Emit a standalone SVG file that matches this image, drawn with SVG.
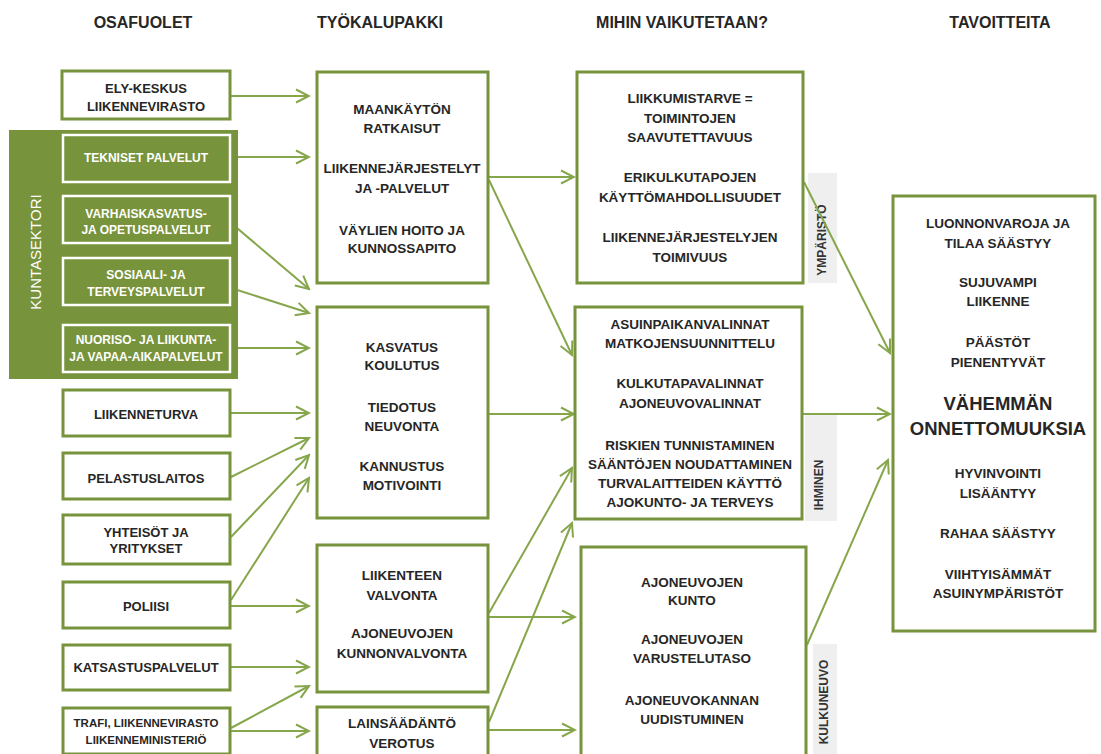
<svg xmlns="http://www.w3.org/2000/svg" width="1101" height="754" viewBox="0 0 1101 754">
<defs>
<style>
.box{fill:#fff;stroke:#77933C;stroke-width:3}
.kbox{fill:#77933C;stroke:#fff;stroke-width:2.5}
.side{fill:#efefef}
text{font-family:"Liberation Sans",Arial,sans-serif;font-weight:bold;fill:#262626;text-anchor:middle;dominant-baseline:central}
.h{font-size:16px}
.l{font-size:13px}
.k{font-size:12px;fill:#fff}
.m{font-size:13.5px}
.big{font-size:18.5px}
.s{font-size:12px;fill:#333}
.conn line{stroke:#86A64C;stroke-width:2;marker-end:url(#ah)}
</style>
<marker id="ah" viewBox="0 0 16 16" refX="14" refY="8" markerWidth="16" markerHeight="16" markerUnits="userSpaceOnUse" orient="auto">
<path d="M1,1.5 L14,8 L1,14.5" fill="none" stroke="#86A64C" stroke-width="2"/>
</marker>
</defs>
<rect width="1101" height="754" fill="#fff"/>

<g id="headers">
<text class="h" x="143" y="22">OSAFUOLET</text>
<text class="h" x="380" y="22">TYÖKALUPAKKI</text>
<text class="h" x="682" y="22">MIHIN VAIKUTETAAN?</text>
<text class="h" x="1000" y="22">TAVOITTEITA</text>
</g>

<g id="side-labels">
<rect class="side" x="808" y="173" width="29" height="110"/>
<text class="s" transform="translate(822,240) rotate(-90)">YMPÄRISTÖ</text>
<rect class="side" x="805" y="415" width="32" height="106"/>
<text class="s" transform="translate(819,485) rotate(-90)">IHMINEN</text>
<rect class="side" x="813" y="644" width="24" height="110"/>
<text class="s" transform="translate(824,702) rotate(-90)">KULKUNEUVO</text>
</g>

<g id="connectors" class="conn">
<line x1="231" y1="96" x2="309" y2="96"/>
<line x1="231" y1="157" x2="309" y2="157"/>
<line x1="231" y1="223" x2="309" y2="289"/>
<line x1="231" y1="288" x2="309" y2="313"/>
<line x1="231" y1="348" x2="309" y2="348"/>
<line x1="231" y1="413" x2="309" y2="413"/>
<line x1="231" y1="477" x2="309" y2="438"/>
<line x1="231" y1="537" x2="309" y2="455"/>
<line x1="231" y1="600" x2="309" y2="478"/>
<line x1="231" y1="606" x2="309" y2="606"/>
<line x1="231" y1="667" x2="309" y2="667"/>
<line x1="231" y1="728" x2="309" y2="686"/>
<line x1="231" y1="731" x2="309" y2="731"/>
<line x1="489" y1="177" x2="574" y2="177"/>
<line x1="489" y1="180" x2="572" y2="355"/>
<line x1="489" y1="414" x2="574" y2="414"/>
<line x1="489" y1="613" x2="572" y2="468"/>
<line x1="489" y1="617" x2="575" y2="617"/>
<line x1="489" y1="722" x2="572" y2="523"/>
<line x1="489" y1="730" x2="575" y2="730"/>
<line x1="804" y1="182" x2="890" y2="353"/>
<line x1="803" y1="414" x2="890" y2="414"/>
<line x1="807" y1="645" x2="888" y2="460"/>
</g>

<g id="ely">
<rect class="box" x="62" y="71" width="168" height="48"/>
<text class="l" x="146" y="88">ELY-KESKUS</text>
<text class="l" x="146" y="106">LIIKENNEVIRASTO</text>
</g>

<g id="kuntasektori">
<rect x="9" y="130" width="229" height="249" fill="#77933C"/>
<text class="k" style="font-size:15px;font-weight:normal" transform="translate(35,252) rotate(-90)">KUNTASEKTORI</text>
</g>
<g id="tekniset">
<rect class="kbox" x="63" y="135" width="167" height="47"/>
<text class="k" x="146" y="158">TEKNISET PALVELUT</text>
</g>
<g id="varhaiskasvatus">
<rect class="kbox" x="63" y="196" width="167" height="47"/>
<text class="k" x="146" y="214">VARHAISKASVATUS-</text>
<text class="k" x="146" y="230">JA OPETUSPALVELUT</text>
</g>
<g id="sosiaali">
<rect class="kbox" x="63" y="258" width="167" height="47"/>
<text class="k" x="146" y="275">SOSIAALI- JA</text>
<text class="k" x="146" y="292">TERVEYSPALVELUT</text>
</g>
<g id="nuoriso">
<rect class="kbox" x="63" y="325" width="167" height="47"/>
<text class="k" x="146" y="340">NUORISO- JA LIIKUNTA-</text>
<text class="k" x="146" y="357">JA VAPAA-AIKAPALVELUT</text>
</g>

<g id="liikenneturva">
<rect class="box" x="63" y="390" width="167" height="46"/>
<text class="l" x="146" y="414">LIIKENNETURVA</text>
</g>
<g id="pelastuslaitos">
<rect class="box" x="63" y="453" width="167" height="46"/>
<text class="l" x="146" y="478">PELASTUSLAITOS</text>
</g>
<g id="yhteisot">
<rect class="box" x="63" y="515" width="167" height="49"/>
<text class="l" x="146" y="532">YHTEISÖT JA</text>
<text class="l" x="146" y="548">YRITYKSET</text>
</g>
<g id="poliisi">
<rect class="box" x="63" y="582" width="167" height="46"/>
<text class="l" x="146" y="606">POLIISI</text>
</g>
<g id="katsastus">
<rect class="box" x="63" y="645" width="167" height="45"/>
<text class="l" x="146" y="667">KATSASTUSPALVELUT</text>
</g>
<g id="trafi">
<rect class="box" x="63" y="708" width="167" height="46"/>
<text class="l" style="font-size:11.5px" x="146" y="723">TRAFI, LIIKENNEVIRASTO</text>
<text class="l" style="font-size:11.5px" x="146" y="740">LIIKENNEMINISTERIÖ</text>
</g>

<g id="maankaytto">
<rect class="box" x="317" y="72" width="171" height="211"/>
<text class="m" x="402" y="109">MAANKÄYTÖN</text>
<text class="m" x="402" y="128">RATKAISUT</text>
<text class="m" x="402" y="168">LIIKENNEJÄRJESTELYT</text>
<text class="m" x="402" y="188">JA -PALVELUT</text>
<text class="m" x="402" y="230">VÄYLIEN HOITO JA</text>
<text class="m" x="402" y="248">KUNNOSSAPITO</text>
</g>
<g id="kasvatus">
<rect class="box" x="317" y="307" width="171" height="211"/>
<text class="m" x="402" y="347">KASVATUS</text>
<text class="m" x="402" y="365">KOULUTUS</text>
<text class="m" x="402" y="407">TIEDOTUS</text>
<text class="m" x="402" y="426">NEUVONTA</text>
<text class="m" x="402" y="466">KANNUSTUS</text>
<text class="m" x="402" y="485">MOTIVOINTI</text>
</g>
<g id="valvonta">
<rect class="box" x="317" y="545" width="171" height="147"/>
<text class="m" x="402" y="575">LIIKENTEEN</text>
<text class="m" x="402" y="595">VALVONTA</text>
<text class="m" x="402" y="633">AJONEUVOJEN</text>
<text class="m" x="402" y="653">KUNNONVALVONTA</text>
</g>
<g id="lainsaadanto">
<rect class="box" x="317" y="707" width="171" height="52"/>
<text class="m" x="402" y="723">LAINSÄÄDÄNTÖ</text>
<text class="m" x="402" y="743">VEROTUS</text>
</g>

<g id="liikkumistarve">
<rect class="box" x="577" y="72" width="226" height="211"/>
<text class="m" x="690" y="98">LIIKKUMISTARVE =</text>
<text class="m" x="690" y="118">TOIMINTOJEN</text>
<text class="m" x="690" y="137">SAAVUTETTAVUUS</text>
<text class="m" x="690" y="177">ERIKULKUTAPOJEN</text>
<text class="m" x="690" y="197">KÄYTTÖMAHDOLLISUUDET</text>
<text class="m" x="690" y="237">LIIKENNEJÄRJESTELYJEN</text>
<text class="m" x="690" y="257">TOIMIVUUS</text>
</g>
<g id="asuinpaikka">
<rect class="box" x="575" y="307" width="227" height="212"/>
<text class="m" x="690" y="324">ASUINPAIKANVALINNAT</text>
<text class="m" x="690" y="343">MATKOJENSUUNNITTELU</text>
<text class="m" x="690" y="383">KULKUTAPAVALINNAT</text>
<text class="m" x="690" y="403">AJONEUVOVALINNAT</text>
<text class="m" x="690" y="445">RISKIEN TUNNISTAMINEN</text>
<text class="m" x="690" y="464">SÄÄNTÖJEN NOUDATTAMINEN</text>
<text class="m" x="690" y="483">TURVALAITTEIDEN KÄYTTÖ</text>
<text class="m" x="690" y="502">AJOKUNTO- JA TERVEYS</text>
</g>
<g id="ajoneuvot">
<rect class="box" x="581" y="547" width="225" height="212"/>
<text class="m" x="692" y="582">AJONEUVOJEN</text>
<text class="m" x="692" y="600">KUNTO</text>
<text class="m" x="692" y="639">AJONEUVOJEN</text>
<text class="m" x="692" y="658">VARUSTELUTASO</text>
<text class="m" x="692" y="700">AJONEUVOKANNAN</text>
<text class="m" x="692" y="719">UUDISTUMINEN</text>
</g>

<g id="tavoitteet">
<rect class="box" x="893" y="196" width="202" height="435"/>
<text class="m" x="998" y="223">LUONNONVAROJA JA</text>
<text class="m" x="998" y="243">TILAA SÄÄSTYY</text>
<text class="m" x="998" y="282">SUJUVAMPI</text>
<text class="m" x="998" y="301">LIIKENNE</text>
<text class="m" x="998" y="342">PÄÄSTÖT</text>
<text class="m" x="998" y="362">PIENENTYVÄT</text>
<text class="big" x="998" y="403">VÄHEMMÄN</text>
<text class="big" x="998" y="428">ONNETTOMUUKSIA</text>
<text class="m" x="998" y="473">HYVINVOINTI</text>
<text class="m" x="998" y="493">LISÄÄNTYY</text>
<text class="m" x="998" y="533">RAHAA SÄÄSTYY</text>
<text class="m" x="998" y="574">VIIHTYISÄMMÄT</text>
<text class="m" x="998" y="593">ASUINYMPÄRISTÖT</text>
</g>
</svg>
